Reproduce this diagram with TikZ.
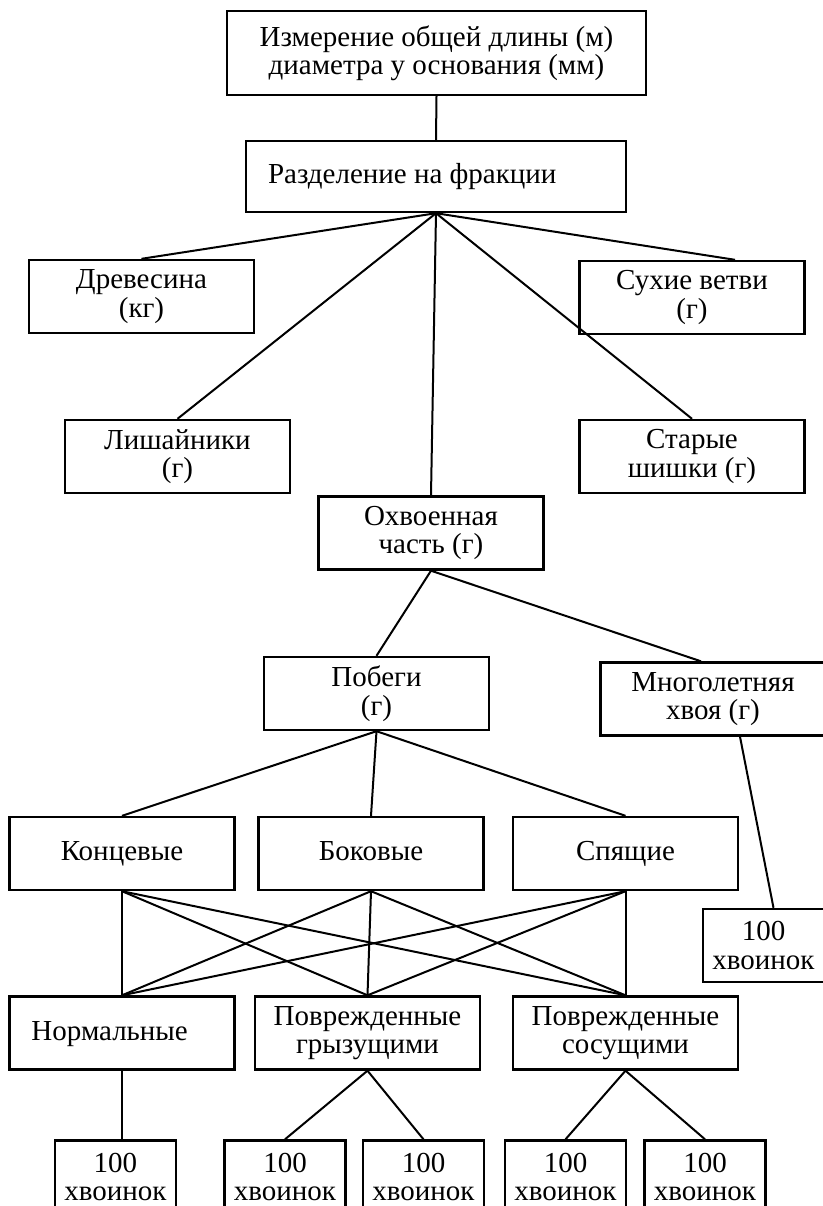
\documentclass[tikz,border=0pt]{standalone}
\usepackage{fontspec}
\setmainfont{Liberation Serif}
\usepackage{tikz}

\begin{document}
\begin{tikzpicture}[x=0.5pt,y=-0.5pt,
    box/.style={draw,line width=1.2pt,align=center,inner sep=2pt,
      minimum width=112.5pt,minimum height=36.5pt,
      font=\fontsize{14.5}{14.2}\selectfont},
    oneline/.style={box,text height=10pt,text depth=3pt},
    leftbox/.style={oneline,align=flush left,inner xsep=11pt},
    smallbox/.style={box,minimum width=60.5pt},
    link/.style={line width=1pt}]
  \clip (0,0) rectangle (823,1206);
  % upper part
  \node[box,minimum width=209.5pt,minimum height=42pt] (izm) at (436.5,53)
    {Измерение общей длины (м)\\диаметра у основания (мм)};
  \node[leftbox,text width=168pt,minimum height=35.5pt] (razd) at (436,176.5)
    {Разделение на фракции};
  \node[box] (drev) at (141.5,296.5) {Древесина\\(кг)};
  \node[box] (suh)  at (692,297.5)   {Сухие ветви\\(г)};
  \node[box] (lish) at (177.5,456.5) {Лишайники\\(г)};
  \node[box] (star) at (692,456.5)   {Старые\\шишки (г)};
  \node[box] (ohv)  at (431,533)     {Охвоенная\\часть (г)};
  \node[box] (pob)  at (376.5,693.5) {Побеги\\(г)};
  \node[box] (mnog) at (713,699)     {Многолетняя\\хвоя (г)};
  % shoots
  \node[oneline] (konc) at (122,853.5)   {Концевые};
  \node[oneline] (bok)  at (371,853.5)   {Боковые};
  \node[oneline] (spya) at (625.5,853.5) {Спящие};
  \node[smallbox] (hvr) at (763.5,945.5) {100\\хвоинок};
  \node[leftbox,text width=90.5pt] (norm) at (122,1033) {Нормальные};
  \node[box] (grz)  at (367.5,1033)  {Поврежденные\\грызущими};
  \node[box] (sos)  at (625.5,1033)  {Поврежденные\\сосущими};
  % needle samples
  \node[smallbox] (hv1) at (115.5,1177) {100\\хвоинок};
  \node[smallbox] (hv2) at (285,1177)   {100\\хвоинок};
  \node[smallbox] (hv3) at (423.5,1177) {100\\хвоинок};
  \node[smallbox] (hv4) at (565.5,1177) {100\\хвоинок};
  \node[smallbox] (hv5) at (705,1177)   {100\\хвоинок};

  \path[link]
    (izm.south) edge (razd.north)
    (razd.south) edge (drev.north)
                 edge ([xshift=21.5pt]suh.north)
                 edge (lish.north)
                 edge (star.north)
                 edge (ohv.north)
    (ohv.south) edge (pob.north)
                edge ([xshift=-6pt]mnog.north)
    (pob.south) edge (konc.north)
                edge (bok.north)
                edge (spya.north)
    ([xshift=13.5pt]mnog.south) edge ([xshift=5pt]hvr.north)
    (konc.south) edge (norm.north) edge (grz.north) edge (sos.north)
    (bok.south)  edge (norm.north) edge (grz.north) edge (sos.north)
    (spya.south) edge (norm.north) edge (grz.north) edge (sos.north)
    (norm.south) edge (norm.south |- hv1.north)
    (grz.south) edge (hv2.north)
                edge (hv3.north)
    (sos.south) edge (hv4.north)
                edge (hv5.north);
\end{tikzpicture}
\end{document}
